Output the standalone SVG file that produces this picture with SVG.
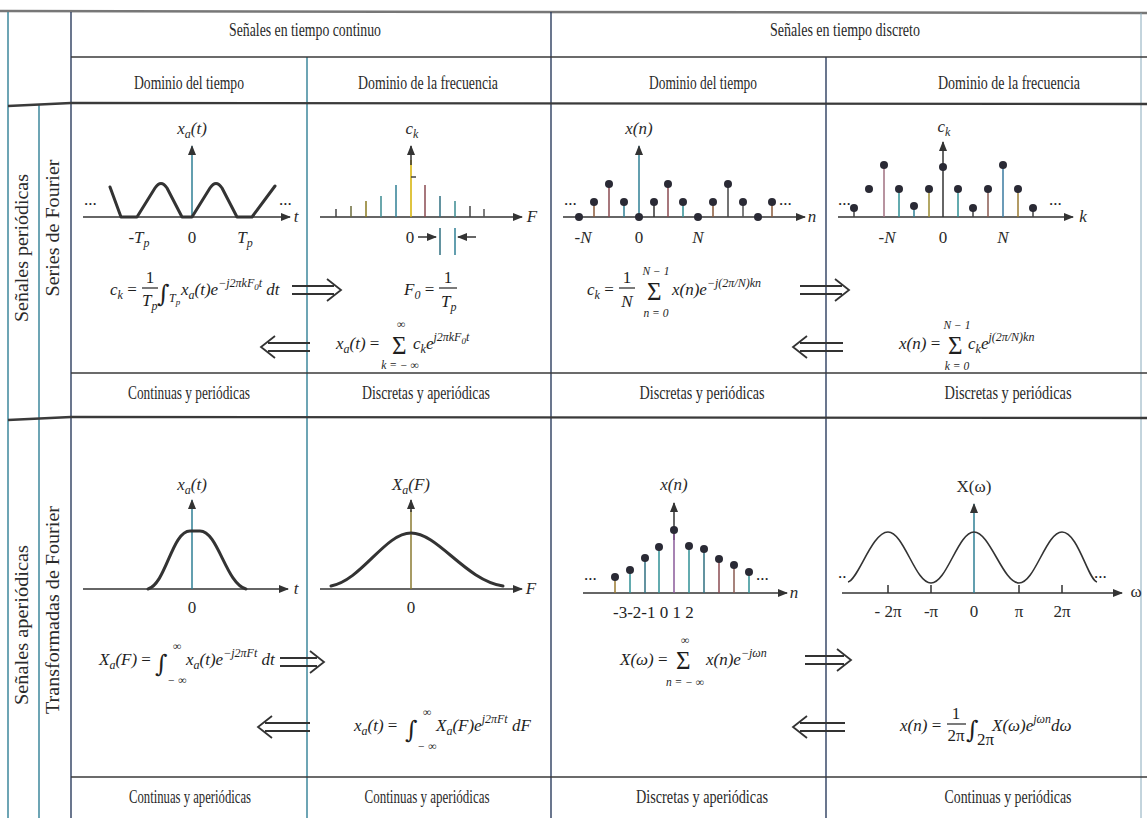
<svg xmlns="http://www.w3.org/2000/svg" width="1147" height="818" viewBox="0 0 1147 818">
<defs>
<style>
.bg{fill:#fff}
.ln{stroke:#3a3a3a;stroke-width:1.4;fill:none}
.lnt{stroke:#3a3a3a;stroke-width:2.4;fill:none}
.vt{stroke:#2f7f95;stroke-width:1.4;fill:none}
.vd{stroke:#2b3d5e;stroke-width:1.4;fill:none}
.h{font-family:"Liberation Serif","Times New Roman",serif;font-size:18px;fill:#2a2a2a;text-anchor:middle}
.r{font-family:"Liberation Serif","Times New Roman",serif;font-size:18px;fill:#2a2a2a;text-anchor:middle}
.ax{stroke:#333;stroke-width:1.5;fill:none}
.axc{stroke:#2f7f95;stroke-width:1.5;fill:none}
.wf{stroke:#333;stroke-width:3;fill:none;stroke-linejoin:round;stroke-linecap:round}
.st{stroke-width:1.5;fill:none}
.dot{fill:#2a2a35}
.m{font-family:"Liberation Serif","Times New Roman",serif;font-style:italic;font-size:17px;fill:#1e1e1e}
.u{font-family:"Liberation Serif","Times New Roman",serif;font-size:17px;fill:#1e1e1e;font-style:normal}
.ms{font-size:12px}
.mss{font-size:9px}
.sg{font-family:"Liberation Serif","Times New Roman",serif;font-size:25px;fill:#1e1e1e}
.ig{font-family:"DejaVu Serif",serif;font-size:24px;fill:#1e1e1e}
.lim{font-family:"Liberation Serif","Times New Roman",serif;font-style:italic;font-size:11.5px;fill:#1e1e1e;text-anchor:middle}
.lbl{font-family:"Liberation Serif","Times New Roman",serif;font-size:17px;fill:#2a2a2a;text-anchor:middle}
.lbli{font-family:"Liberation Serif","Times New Roman",serif;font-style:italic;font-size:17px;fill:#2a2a2a;text-anchor:middle}
.fb{stroke:#222;stroke-width:1.2}
.da{stroke:#333;stroke-width:1.8;fill:none;stroke-linejoin:miter}
</style>
<marker id="ah" viewBox="0 0 10 8" refX="9" refY="4" markerWidth="10" markerHeight="8" markerUnits="userSpaceOnUse" orient="auto"><path d="M0,0 L10,4 L0,8 z" fill="#333"/></marker>
</defs>
<rect class="bg" x="0" y="0" width="1147" height="818"/>

<g id="table">
<path d="M0,11 L1147,13" stroke="#777" stroke-width="2.5" fill="none"/>
<line class="vt" x1="8" y1="12" x2="8" y2="818"/>
<line class="vt" x1="39" y1="104" x2="39" y2="818"/>
<line class="vd" x1="71" y1="12" x2="71" y2="818"/>
<line class="vt" x1="307" y1="57" x2="307" y2="818"/>
<line class="vd" x1="551" y1="12" x2="551" y2="818"/>
<line class="vd" x1="826" y1="57" x2="826" y2="818"/>
<line x1="1141" y1="13" x2="1141" y2="818" stroke="#8ab" stroke-width="1"/>
<line class="ln" x1="71" y1="57" x2="1147" y2="57"/>
<path class="lnt" d="M8,106 L71,103 L1147,104"/>
<line class="ln" x1="71" y1="373" x2="1147" y2="373"/>
<path class="lnt" d="M8,420 L71,417 L1147,418"/>
<line class="ln" x1="71" y1="777" x2="1147" y2="777"/>
</g>

<g id="headers">
<text class="h" x="305" y="36" textLength="152" lengthAdjust="spacingAndGlyphs">Señales en tiempo continuo</text>
<text class="h" x="845" y="36" textLength="150" lengthAdjust="spacingAndGlyphs">Señales en tiempo discreto</text>
<text class="h" x="189" y="89" textLength="110" lengthAdjust="spacingAndGlyphs">Dominio del tiempo</text>
<text class="h" x="428" y="89" textLength="140" lengthAdjust="spacingAndGlyphs">Dominio de la frecuencia</text>
<text class="h" x="703" y="89" textLength="108" lengthAdjust="spacingAndGlyphs">Dominio del tiempo</text>
<text class="h" x="1009" y="89" textLength="142" lengthAdjust="spacingAndGlyphs">Dominio de la frecuencia</text>
</g>

<g id="row-labels">
<text class="r" transform="translate(28,248) rotate(-90)" textLength="148" lengthAdjust="spacingAndGlyphs">Señales periódicas</text>
<text class="r" transform="translate(59,228) rotate(-90)" textLength="137" lengthAdjust="spacingAndGlyphs">Series de Fourier</text>
<text class="r" transform="translate(28,625) rotate(-90)" textLength="160" lengthAdjust="spacingAndGlyphs">Señales aperiódicas</text>
<text class="r" transform="translate(59,610) rotate(-90)" textLength="208" lengthAdjust="spacingAndGlyphs">Transformadas de Fourier</text>
</g>

<g id="category-labels">
<text class="h" x="189" y="399" textLength="122" lengthAdjust="spacingAndGlyphs">Continuas y periódicas</text>
<text class="h" x="426" y="399" textLength="128" lengthAdjust="spacingAndGlyphs">Discretas y aperiódicas</text>
<text class="h" x="702" y="399" textLength="125" lengthAdjust="spacingAndGlyphs">Discretas y periódicas</text>
<text class="h" x="1008" y="399" textLength="127" lengthAdjust="spacingAndGlyphs">Discretas y periódicas</text>
<text class="h" x="190" y="803" textLength="122" lengthAdjust="spacingAndGlyphs">Continuas y aperiódicas</text>
<text class="h" x="427" y="803" textLength="125" lengthAdjust="spacingAndGlyphs">Continuas y aperiódicas</text>
<text class="h" x="702" y="803" textLength="132" lengthAdjust="spacingAndGlyphs">Discretas y aperiódicas</text>
<text class="h" x="1008" y="803" textLength="127" lengthAdjust="spacingAndGlyphs">Continuas y periódicas</text>
</g>

<g id="cell-ct-periodic">
<line class="ax" x1="83" y1="217" x2="290" y2="217" marker-end="url(#ah)"/>
<line class="axc" x1="192" y1="217" x2="192" y2="146" marker-end="url(#ah)"/>
<path class="wf" d="M110,187 L121,217 L137,217 L155,188 Q161,179 167,188 L182,217 L192,217 L210,188 Q216,179 222,188 L237,217 L252,217 L275,186"/>
<text class="lbli" x="192" y="134">x<tspan class="ms" dy="4">a</tspan><tspan dy="-4">(t)</tspan></text>
<text class="lbli" x="296" y="222">t</text>
<text class="u" x="84" y="205" font-size="11">...</text>
<text class="u" x="279" y="205" font-size="11">...</text>
<text class="lbli" x="139" y="243">-T<tspan class="ms" dy="4">p</tspan></text>
<text class="lbl" x="192" y="243">0</text>
<text class="lbli" x="245" y="243">T<tspan class="ms" dy="4">p</tspan></text>
</g>

<g id="cell-cf-periodic">
<line class="ax" x1="320" y1="217" x2="522" y2="217" marker-end="url(#ah)"/>
<line class="st" stroke="#d4b000" x1="411" y1="217" x2="411" y2="160"/>
<line class="ax" x1="411" y1="165" x2="411" y2="146" marker-end="url(#ah)"/>
<line class="st" stroke="#444" x1="411" y1="177" x2="416" y2="177"/>
<line class="st" stroke="#444" x1="336" y1="217" x2="336" y2="209"/>
<line class="st" stroke="#6b6b3a" x1="351" y1="217" x2="351" y2="206"/>
<line class="st" stroke="#8a7a20" x1="366" y1="217" x2="366" y2="201"/>
<line class="st" stroke="#3a8a90" x1="381" y1="217" x2="381" y2="196"/>
<line class="st" stroke="#2f7f95" x1="396" y1="217" x2="396" y2="185"/>
<line class="st" stroke="#8a4a50" x1="425" y1="217" x2="425" y2="185"/>
<line class="st" stroke="#2f6f80" x1="440" y1="217" x2="440" y2="196"/>
<line class="st" stroke="#3a8a90" x1="455" y1="217" x2="455" y2="201"/>
<line class="st" stroke="#444" x1="470" y1="217" x2="470" y2="206"/>
<line class="st" stroke="#555" x1="484" y1="217" x2="484" y2="209"/>
<text class="lbli" x="412" y="134">c<tspan class="ms" dy="4">k</tspan></text>
<text class="lbli" x="532" y="222">F</text>
<text class="lbl" x="410" y="243">0</text>
<line class="ax" x1="418" y1="237" x2="436" y2="237" marker-end="url(#ah)"/>
<line class="st" stroke="#2f6f80" x1="440" y1="228" x2="440" y2="255"/>
<line class="st" stroke="#2f7f95" x1="455" y1="228" x2="455" y2="255"/>
<line class="ax" x1="476" y1="237" x2="458" y2="237" marker-end="url(#ah)"/>
</g>

<g id="cell-dt-periodic">
<line class="ax" x1="563" y1="217" x2="805" y2="217" marker-end="url(#ah)"/>
<line class="axc" x1="639" y1="217" x2="639" y2="146" marker-end="url(#ah)"/>
<line class="st" stroke="#8a5a3a" x1="594" y1="217" x2="594" y2="202"/>
<line class="st" stroke="#8a4a50" x1="609" y1="217" x2="609" y2="184"/>
<line class="st" stroke="#2f7f95" x1="624" y1="217" x2="624" y2="202"/>
<line class="st" stroke="#333" x1="654" y1="217" x2="654" y2="202"/>
<line class="st" stroke="#8a4a50" x1="668" y1="217" x2="668" y2="184"/>
<line class="st" stroke="#2f8f95" x1="683" y1="217" x2="683" y2="202"/>
<line class="st" stroke="#8a5a3a" x1="713" y1="217" x2="713" y2="202"/>
<line class="st" stroke="#444" x1="728" y1="217" x2="728" y2="184"/>
<line class="st" stroke="#555" x1="743" y1="217" x2="743" y2="202"/>
<line class="st" stroke="#8a5a3a" x1="772" y1="217" x2="772" y2="202"/>
<circle class="dot" cx="579" cy="217" r="4"/>
<circle class="dot" cx="594" cy="202" r="4"/>
<circle class="dot" cx="609" cy="184" r="4"/>
<circle class="dot" cx="624" cy="202" r="4"/>
<circle class="dot" cx="639" cy="217" r="4"/>
<circle class="dot" cx="654" cy="202" r="4"/>
<circle class="dot" cx="668" cy="184" r="4"/>
<circle class="dot" cx="683" cy="202" r="4"/>
<circle class="dot" cx="698" cy="217" r="4"/>
<circle class="dot" cx="713" cy="202" r="4"/>
<circle class="dot" cx="728" cy="184" r="4"/>
<circle class="dot" cx="743" cy="202" r="4"/>
<circle class="dot" cx="758" cy="217" r="4"/>
<circle class="dot" cx="772" cy="202" r="4"/>
<text class="lbli" x="639" y="134">x(n)</text>
<text class="lbli" x="812" y="222">n</text>
<text class="u" x="564" y="205" font-size="11">...</text>
<text class="u" x="779" y="205" font-size="11">...</text>
<text class="lbli" x="583" y="243">-N</text>
<text class="lbl" x="639" y="243">0</text>
<text class="lbli" x="698" y="243">N</text>
</g>

<g id="cell-df-periodic">
<line class="ax" x1="838" y1="217" x2="1073" y2="217" marker-end="url(#ah)"/>
<line class="ax" x1="943" y1="217" x2="943" y2="142" marker-end="url(#ah)"/>
<line class="st" stroke="#444" x1="854" y1="217" x2="854" y2="208"/>
<line class="st" stroke="#a07080" x1="884" y1="217" x2="884" y2="165"/>
<line class="st" stroke="#2f8f95" x1="899" y1="217" x2="899" y2="189"/>
<line class="st" stroke="#2f7f95" x1="914" y1="217" x2="914" y2="206"/>
<line class="st" stroke="#9a8a30" x1="929" y1="217" x2="929" y2="189"/>
<line class="st" stroke="#2f8f95" x1="958" y1="217" x2="958" y2="189"/>
<line class="st" stroke="#444" x1="973" y1="217" x2="973" y2="208"/>
<line class="st" stroke="#8a5a50" x1="988" y1="217" x2="988" y2="189"/>
<line class="st" stroke="#3a7aa0" x1="1003" y1="217" x2="1003" y2="165"/>
<line class="st" stroke="#9a7a30" x1="1018" y1="217" x2="1018" y2="189"/>
<line class="st" stroke="#444" x1="1033" y1="217" x2="1033" y2="208"/>
<circle class="dot" cx="854" cy="208" r="4"/>
<circle class="dot" cx="869" cy="189" r="4"/>
<circle class="dot" cx="884" cy="165" r="4"/>
<circle class="dot" cx="899" cy="189" r="4"/>
<circle class="dot" cx="914" cy="206" r="4"/>
<circle class="dot" cx="929" cy="189" r="4"/>
<circle class="dot" cx="943" cy="167" r="4"/>
<circle class="dot" cx="958" cy="189" r="4"/>
<circle class="dot" cx="973" cy="208" r="4"/>
<circle class="dot" cx="988" cy="189" r="4"/>
<circle class="dot" cx="1003" cy="165" r="4"/>
<circle class="dot" cx="1018" cy="189" r="4"/>
<circle class="dot" cx="1033" cy="208" r="4"/>
<text class="lbli" x="944" y="132">c<tspan class="ms" dy="4">k</tspan></text>
<text class="lbli" x="1083" y="222">k</text>
<text class="u" x="838" y="205" font-size="11">...</text>
<text class="u" x="1049" y="205" font-size="11">...</text>
<text class="lbli" x="887" y="243">-N</text>
<text class="lbl" x="943" y="243">0</text>
<text class="lbli" x="1003" y="243">N</text>
</g>

<g id="eq-ck-continuous">
<text class="m" x="110" y="295">c<tspan class="ms" dy="4">k</tspan><tspan class="u" dy="-4"> =</tspan></text>
<text class="u" x="150" y="283" text-anchor="middle">1</text>
<line class="fb" x1="142" y1="288" x2="158" y2="288"/>
<text class="m" x="142" y="306">T<tspan class="ms" dy="4">p</tspan></text>
<text class="ig" x="157" y="302">∫</text>
<text class="m" x="169" y="302"><tspan class="ms">T</tspan><tspan class="mss" dy="3">p</tspan></text>
<text class="m" x="181" y="295">x<tspan class="ms" dy="4">a</tspan><tspan dy="-4">(t)e</tspan><tspan class="ms" dy="-8">−j2πkF</tspan><tspan class="mss" dy="3">0</tspan><tspan class="ms" dy="-3">t</tspan><tspan dy="8"> dt</tspan></text>
</g>

<g id="eq-F0">
<text class="m" x="404" y="295">F<tspan class="ms" dy="4">0</tspan><tspan class="u" dy="-4"> =</tspan></text>
<text class="u" x="448" y="283" text-anchor="middle">1</text>
<line class="fb" x1="439" y1="288" x2="457" y2="288"/>
<text class="m" x="441" y="307">T<tspan class="ms" dy="4">p</tspan></text>
</g>

<g id="eq-xa-series">
<text class="m" x="336" y="349">x<tspan class="ms" dy="4">a</tspan><tspan dy="-4">(t) </tspan><tspan class="u">=</tspan></text>
<text class="sg" x="392" y="354">Σ</text>
<text class="lim" x="401" y="328">∞</text>
<text class="lim" x="400" y="369">k = − ∞</text>
<text class="m" x="413" y="349">c<tspan class="ms" dy="4">k</tspan><tspan dy="-4">e</tspan><tspan class="ms" dy="-8">j2πkF</tspan><tspan class="mss" dy="3">0</tspan><tspan class="ms" dy="-3">t</tspan></text>
</g>

<g id="eq-ck-discrete">
<text class="m" x="587" y="295">c<tspan class="ms" dy="4">k</tspan><tspan class="u" dy="-4"> =</tspan></text>
<text class="u" x="627" y="283" text-anchor="middle">1</text>
<line class="fb" x1="619" y1="288" x2="635" y2="288"/>
<text class="m" x="627" y="307" text-anchor="middle">N</text>
<text class="lim" x="656" y="275">N − 1</text>
<text class="sg" x="647" y="300">Σ</text>
<text class="lim" x="656" y="317">n = 0</text>
<text class="m" x="672" y="295">x(n)e<tspan class="ms" dy="-8">−j(2π/N)kn</tspan></text>
</g>

<g id="eq-xn-series">
<text class="m" x="899" y="349">x(n) <tspan class="u">=</tspan></text>
<text class="sg" x="948" y="354">Σ</text>
<text class="lim" x="957" y="329">N − 1</text>
<text class="lim" x="957" y="370">k = 0</text>
<text class="m" x="968" y="349">c<tspan class="ms" dy="4">k</tspan><tspan dy="-4">e</tspan><tspan class="ms" dy="-8">j(2π/N)kn</tspan></text>
</g>

<g id="cell-ct-aperiodic">
<line class="ax" x1="83" y1="589" x2="288" y2="589" marker-end="url(#ah)"/>
<line class="axc" x1="192" y1="589" x2="192" y2="500" marker-end="url(#ah)"/>
<path class="wf" d="M148,589 C166,584 172,531 190,531 L200,531 C218,531 226,584 246,589"/>
<text class="lbli" x="192" y="490">x<tspan class="ms" dy="4">a</tspan><tspan dy="-4">(t)</tspan></text>
<text class="lbli" x="296" y="594">t</text>
<text class="lbl" x="192" y="613">0</text>
</g>

<g id="cell-cf-aperiodic">
<line class="ax" x1="320" y1="589" x2="522" y2="589" marker-end="url(#ah)"/>
<line class="st" stroke="#8a7a30" x1="411" y1="589" x2="411" y2="510"/>
<line class="ax" x1="411" y1="512" x2="411" y2="500" marker-end="url(#ah)"/>
<path class="wf" d="M331,586 C362,580 385,533 411,533 C438,533 465,580 503,586"/>
<text class="lbli" x="411" y="490">X<tspan class="ms" dy="4">a</tspan><tspan dy="-4">(F)</tspan></text>
<text class="lbli" x="531" y="594">F</text>
<text class="lbl" x="411" y="613">0</text>
</g>

<g id="cell-dt-aperiodic">
<line class="ax" x1="583" y1="593" x2="787" y2="593" marker-end="url(#ah)"/>
<line class="ax" x1="674" y1="540" x2="674" y2="503" marker-end="url(#ah)"/>
<line class="st" stroke="#9a7a30" x1="615" y1="593" x2="615" y2="577"/>
<line class="st" stroke="#2f8f95" x1="630" y1="593" x2="630" y2="570"/>
<line class="st" stroke="#2f6f80" x1="645" y1="593" x2="645" y2="558"/>
<line class="st" stroke="#2f8f95" x1="659" y1="593" x2="659" y2="547"/>
<line class="st" stroke="#8a5a9a" x1="674" y1="593" x2="674" y2="530"/>
<line class="st" stroke="#2f8f95" x1="689" y1="593" x2="689" y2="546"/>
<line class="st" stroke="#2f6f80" x1="704" y1="593" x2="704" y2="549"/>
<line class="st" stroke="#8a4a50" x1="719" y1="593" x2="719" y2="559"/>
<line class="st" stroke="#8a5a50" x1="734" y1="593" x2="734" y2="565"/>
<line class="st" stroke="#2f8f95" x1="749" y1="593" x2="749" y2="572"/>
<circle class="dot" cx="615" cy="577" r="4"/>
<circle class="dot" cx="630" cy="570" r="4"/>
<circle class="dot" cx="645" cy="558" r="4"/>
<circle class="dot" cx="659" cy="547" r="4"/>
<circle class="dot" cx="674" cy="530" r="4"/>
<circle class="dot" cx="689" cy="546" r="4"/>
<circle class="dot" cx="704" cy="549" r="4"/>
<circle class="dot" cx="719" cy="559" r="4"/>
<circle class="dot" cx="734" cy="565" r="4"/>
<circle class="dot" cx="749" cy="572" r="4"/>
<text class="lbli" x="674" y="490">x(n)</text>
<text class="lbli" x="794" y="598">n</text>
<text class="u" x="584" y="580" font-size="11">...</text>
<text class="u" x="756" y="580" font-size="11">...</text>
<text class="u" x="613" y="618">-3-2-1 0 1 2</text>
</g>

<g id="cell-df-aperiodic">
<line class="ax" x1="842" y1="593" x2="1122" y2="593" marker-end="url(#ah)"/>
<line class="axc" x1="974" y1="593" x2="974" y2="504" marker-end="url(#ah)"/>
<path class="ax" d="M888,593 V585 M931,593 V585 M1019,593 V585 M1062,593 V585"/>
<path stroke="#333" stroke-width="1.6" fill="none" d="M848,582 C858,580 872,532 888,532 C904,532 915,583 931,583 C947,583 958,532 974,532 C990,532 1003,583 1019,583 C1035,583 1046,532 1062,532 C1078,532 1088,580 1097,582"/>
<text class="lbl" x="974" y="492">X(ω)</text>
<text class="lbl" x="1136" y="597">ω</text>
<text class="u" x="838" y="578" font-size="11">..</text>
<text class="u" x="1094" y="578" font-size="11">...</text>
<text class="lbl" x="888" y="617">- 2π</text>
<text class="lbl" x="931" y="617">-π</text>
<text class="lbl" x="974" y="617">0</text>
<text class="lbl" x="1019" y="617">π</text>
<text class="lbl" x="1062" y="617">2π</text>
</g>

<g id="eq-Xa-transform">
<text class="m" x="99" y="665">X<tspan class="ms" dy="4">a</tspan><tspan dy="-4">(F) </tspan><tspan class="u">=</tspan></text>
<text class="ig" x="155" y="672">∫</text>
<text class="lim" x="177" y="650">∞</text>
<text class="lim" x="177" y="684">− ∞</text>
<text class="m" x="186" y="665">x<tspan class="ms" dy="4">a</tspan><tspan dy="-4">(t)e</tspan><tspan class="ms" dy="-8">−j2πFt</tspan><tspan dy="8"> dt</tspan></text>
</g>

<g id="eq-X-omega">
<text class="m" x="620" y="665">X(ω) <tspan class="u">=</tspan></text>
<text class="sg" x="676" y="669">Σ</text>
<text class="lim" x="685" y="644">∞</text>
<text class="lim" x="685" y="686">n = − ∞</text>
<text class="m" x="706" y="665">x(n)e<tspan class="ms" dy="-8">−jωn</tspan></text>
</g>

<g id="eq-xa-inverse">
<text class="m" x="354" y="731">x<tspan class="ms" dy="4">a</tspan><tspan dy="-4">(t) </tspan><tspan class="u">=</tspan></text>
<text class="ig" x="405" y="738">∫</text>
<text class="lim" x="427" y="716">∞</text>
<text class="lim" x="427" y="750">− ∞</text>
<text class="m" x="436" y="731">X<tspan class="ms" dy="4">a</tspan><tspan dy="-4">(F)e</tspan><tspan class="ms" dy="-8">j2πFt</tspan><tspan dy="8"> dF</tspan></text>
</g>

<g id="eq-xn-inverse">
<text class="m" x="900" y="731">x(n) <tspan class="u">=</tspan></text>
<text class="u" x="956" y="719" text-anchor="middle">1</text>
<line class="fb" x1="947" y1="724" x2="966" y2="724"/>
<text class="u" x="956" y="741" text-anchor="middle">2π</text>
<text class="ig" x="966" y="738">∫</text>
<text class="u" x="977" y="745" font-size="12">2π</text>
<text class="m" x="992" y="731">X(ω)e<tspan class="ms" dy="-8">jωn</tspan><tspan dy="8">dω</tspan></text>
</g>

<g id="connectors">
<path class="da" d="M292,286 H334 M292,294 H334 M327,279 L341,290 L327,301"/>
<path class="da" d="M268,343 H310 M268,351 H310 M275,336 L261,347 L275,358"/>
<path class="da" d="M800,286 H842 M800,294 H842 M835,279 L849,290 L835,301"/>
<path class="da" d="M800,343 H843 M800,351 H843 M807,336 L793,347 L807,358"/>
<path class="da" d="M280,658 H317 M280,666 H317 M310,651 L324,662 L310,673"/>
<path class="da" d="M805,656 H844 M805,664 H844 M837,649 L851,660 L837,671"/>
<path class="da" d="M265,723 H310 M265,731 H310 M272,716 L258,727 L272,738"/>
<path class="da" d="M800,723 H845 M800,731 H845 M807,716 L793,727 L807,738"/>
</g>
</svg>
